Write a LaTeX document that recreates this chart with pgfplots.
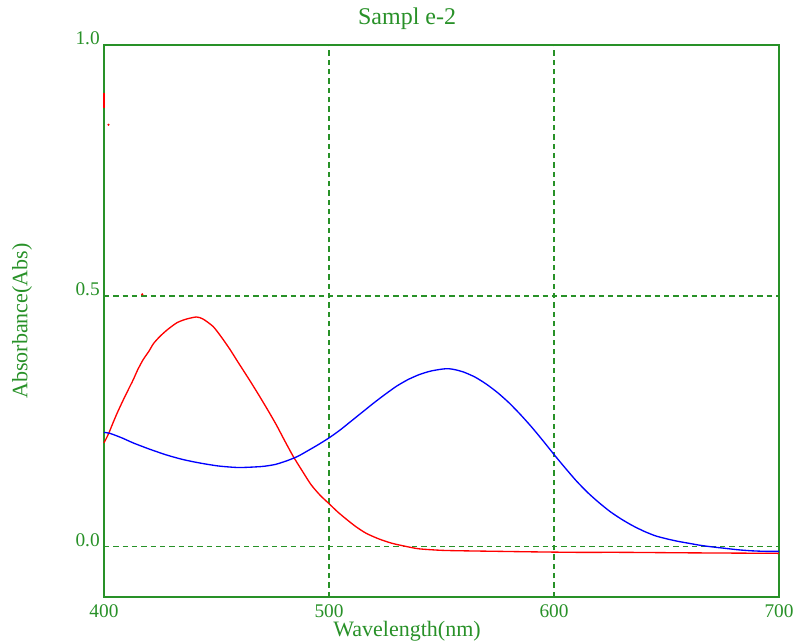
\documentclass[border=0pt]{standalone}
\usepackage{pgfplots}
\pgfplotsset{compat=1.18}
\usepackage{fontspec}
\setmainfont{Liberation Serif}
\definecolor{sgreen}{RGB}{40,145,40}
\begin{document}
\begin{tikzpicture}
\begin{axis}[
  anchor=south west, at={(0,0)},
  scale only axis,
  width=506.25pt, height=414pt,
  xmin=400, xmax=700, ymin=-0.1, ymax=1.0,
  xtick={400,500,600,700},
  ytick={0,0.5,1},
  yticklabels={0.0,0.5,1.0},
  major tick length=0pt,
  axis line style={sgreen, line width=1.4pt},
  grid=major,
  major grid style={sgreen, line width=1pt, dash pattern=on 4pt off 3pt},
  /pgf/number format/assume math mode=true,
  ticklabel style={font=\fontsize{14.5}{16}\selectfont, text=sgreen, inner sep=0pt},
  yticklabel style={anchor=south east, xshift=-3pt, yshift=0pt},
  xticklabel style={anchor=north, yshift=-5.5pt},
  label style={text=sgreen},
  title style={font=\fontsize{18}{20}\selectfont, text=sgreen, at={(0.449,1.0326)}, anchor=center},
  title={Sampl e-2},
  xlabel={Wavelength(nm)},
  ylabel={Absorbance(Abs)},
  xlabel style={font=\fontsize{16.5}{18}\selectfont, at={(axis description cs:0.449,-0.0615)}, anchor=center},
  ylabel style={font=\fontsize{16.5}{18}\selectfont, at={(axis description cs:-0.1215,0.5)}, anchor=center},
  clip=false,
]
% red series
\addplot[red, line width=1.0pt, smooth, tension=0.4] coordinates {
(400,0.207) (402,0.225) (404,0.247) (406,0.268) (408.6,0.293) (411,0.315)
(413,0.333) (415,0.353) (417.4,0.373) (420,0.390) (422,0.405) (424.8,0.419)
(428,0.432) (432.2,0.446) (436,0.453) (441,0.458) (444,0.454) (448.5,0.439)
(452,0.419) (455.9,0.394) (459,0.372) (462,0.351) (465,0.330) (469,0.301)
(473,0.271) (476.6,0.243) (480,0.214) (484,0.181) (488,0.152) (492,0.124)
(496,0.103) (500,0.086) (504,0.069) (508,0.054) (512,0.040) (516.5,0.027)
(522,0.016) (528,0.007) (534,0.001) (540,-0.004) (550,-0.007) (560,-0.008)
(575,-0.009) (590,-0.010) (610,-0.011) (630,-0.011) (660,-0.012) (700,-0.013)
};
% red spikes
\addplot[red, line width=1.4pt] coordinates {(400,0.875) (400,0.905)};
\addplot[red, only marks, mark=*, mark size=0.6pt] coordinates {(402,0.841) (417,0.503)};
% blue series
\addplot[blue, line width=1.0pt, smooth, tension=0.4] coordinates {
(400,0.228) (402.7,0.226) (408,0.217) (413,0.207) (420,0.195) (427.8,0.183)
(435,0.174) (442.6,0.167) (451,0.161) (460,0.158) (470,0.160) (476,0.164)
(481,0.171) (486,0.180) (490,0.190) (495,0.203) (500,0.217) (505,0.233)
(510,0.251) (515,0.269) (520,0.287) (525,0.304) (530,0.320) (535,0.333)
(540,0.343) (545,0.350) (550,0.354) (553,0.355) (556,0.353) (560,0.348)
(565,0.338) (570,0.324) (575,0.307) (580,0.287) (585,0.264) (590,0.239)
(595,0.212) (600,0.184) (605,0.157) (610,0.131) (615,0.108) (620,0.088)
(625,0.070) (630,0.055) (635,0.042) (640,0.031) (645,0.022) (650,0.016)
(655,0.011) (660,0.007) (665,0.003) (670,0.000) (676,-0.003) (682,-0.006)
(688,-0.008) (694,-0.009) (700,-0.009)
};
\end{axis}
\pgfresetboundingbox
\path ([xshift=-78pt,yshift=-33.75pt]current axis.south west) rectangle ([xshift=12pt,yshift=33.75pt]current axis.north east);
\end{tikzpicture}
\end{document}
